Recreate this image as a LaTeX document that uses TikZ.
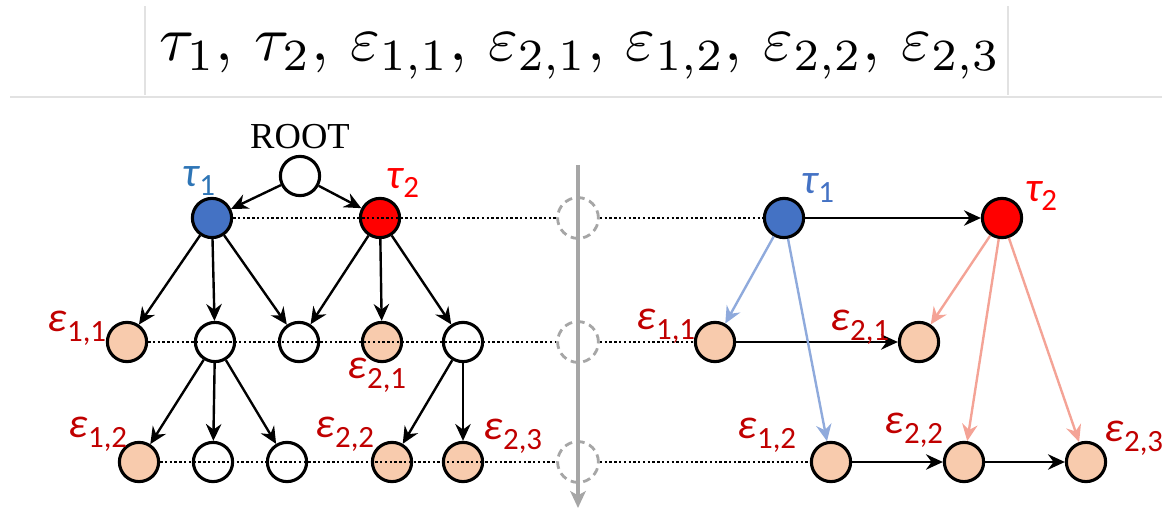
\documentclass[tikz,border=0pt]{standalone}
\usepackage{fontspec}
\usepackage{graphicx}
\usetikzlibrary{arrows.meta}
\newfontfamily\labfont{Carlito}
\newfontfamily\rootfont{Liberation Serif}
\definecolor{tblue}{HTML}{4472C4}
\definecolor{tred}{HTML}{FF0000}
\definecolor{peach}{HTML}{F8CBAD}
\definecolor{lblue}{HTML}{2E75B6}
\definecolor{rblue}{HTML}{4472C4}
\definecolor{erd}{HTML}{C00000}
\definecolor{eblue}{HTML}{8FAADC}
\definecolor{esalmon}{HTML}{F4A396}
\definecolor{gline}{HTML}{A6A6A6}
\definecolor{boxline}{HTML}{E2E2E2}
\newcommand\glab[2]{{\itshape #1}\raisebox{-7pt}{\fontsize{22}{22}\selectfont #2}}
\begin{document}
\begin{tikzpicture}[x=0.025cm,y=-0.025cm,
  nd/.style={circle,draw=black,line width=2.2pt,minimum size=0.98cm,inner sep=0pt},
  wnode/.style={nd,fill=white},
  bnode/.style={nd,fill=tblue},
  rnode/.style={nd,fill=tred},
  pnode/.style={nd,fill=peach},
  gnode/.style={circle,draw=gline,dash pattern=on 5.5pt off 3.5pt,line width=2pt,minimum size=1.02cm,inner sep=0pt},
  edge/.style={line width=1.7pt,-{Stealth[length=12pt,width=11pt,inset=4pt]}},
  lab/.style={font=\labfont\fontsize{30}{30}\selectfont,inner sep=0pt},
  dotl/.style={line width=1.8pt,dash pattern=on 1.7pt off 1.7pt},
]
\useasboundingbox (0,0) rectangle (1173,518);
% title
\draw[boxline,line width=1pt] (145,6) -- (145,95) (1008,6) -- (1008,95);
\draw[boxline,line width=1pt] (10,97) -- (1162,97);
\node (title) at (580,56) {\resizebox{598pt}{!}{$\tau_1,\,\tau_2,\,\varepsilon_{1,1},\,\varepsilon_{2,1},\,\varepsilon_{1,2},\,\varepsilon_{2,2},\,\varepsilon_{2,3}$}};
% left tree
\node[wnode] (root) at (300,176) {};
\node[bnode] (t1L) at (212,218) {};
\node[rnode] (t2L) at (380,218) {};
\node[pnode] (a1) at (127,342) {};
\node[wnode] (a2) at (215,342) {};
\node[wnode] (a3) at (299,342) {};
\node[pnode] (a4) at (382,342) {};
\node[wnode] (a5) at (463,342) {};
\node[pnode] (b1) at (139,462) {};
\node[wnode] (b2) at (213,462) {};
\node[wnode] (b3) at (287,462) {};
\node[pnode] (b4) at (392,462) {};
\node[pnode] (b5) at (463,462) {};
\draw[edge] (root) -- (t1L);
\draw[edge] (root) -- (t2L);
\draw[edge] (t1L) -- (a1);
\draw[edge] (t1L) -- (a2);
\draw[edge] (t1L) -- (a3);
\draw[edge] (t2L) -- (a3);
\draw[edge] (t2L) -- (a4);
\draw[edge] (t2L) -- (a5);
\draw[edge] (a2) -- (b1);
\draw[edge] (a2) -- (b2);
\draw[edge] (a2) -- (b3);
\draw[edge] (a5) -- (b4);
\draw[edge] (a5) -- (b5);
\node[font=\rootfont\fontsize{26}{26}\selectfont,inner sep=0pt] (rootlab) at (300,137) {ROOT};
\node[lab,text=lblue] (t1Llab) at (199,181) {\glab{τ}{1}};
\node[lab,text=tred] (t2Llab) at (403,183) {\glab{τ}{2}};
\node[lab,text=erd] (a1lab) at (77,328) {\glab{ε}{1,1}};
\node[lab,text=erd] (a4lab) at (377,375) {\glab{ε}{2,1}};
\node[lab,text=erd] (b1lab) at (98,434) {\glab{ε}{1,2}};
\node[lab,text=erd] (b4lab) at (345,434) {\glab{ε}{2,2}};
\node[lab,text=erd] (b5lab) at (513,436) {\glab{ε}{2,3}};
% middle
\coordinate (ctop) at (578,165);
\coordinate (cbot) at (578,508);
\draw[gline,line width=2.2pt,-{Stealth[length=12pt,width=11pt,inset=3pt]}] (ctop) -- (cbot);
\node[gnode] (m1) at (578,218) {};
\node[gnode] (m2) at (578,342) {};
\node[gnode] (m3) at (578,462) {};
% right
\node[bnode] (t1R) at (784,218) {};
\node[rnode] (t2R) at (1002,218) {};
\node[pnode] (e11) at (715,342) {};
\node[pnode] (e21) at (919,342) {};
\node[pnode] (e12) at (831,462) {};
\node[pnode] (e22) at (964,462) {};
\node[pnode] (e23) at (1086,462) {};
\draw[edge] (t1R) -- (t2R);
\draw[edge] (e11) -- (e21);
\draw[edge] (e12) -- (e22);
\draw[edge] (e22) -- (e23);
\draw[edge,eblue] (t1R) -- (e11);
\draw[edge,eblue] (t1R) -- (e12);
\draw[edge,esalmon] (t2R) -- (e21);
\draw[edge,esalmon] (t2R) -- (e22);
\draw[edge,esalmon] (t2R) -- (e23);
\node[lab,text=rblue] (t1Rlab) at (818,188) {\glab{τ}{1}};
\node[lab,text=tred] (t2Rlab) at (1041,196) {\glab{τ}{2}};
\node[lab,text=erd] (e11lab) at (666,326) {\glab{ε}{1,1}};
\node[lab,text=erd] (e21lab) at (860,327) {\glab{ε}{2,1}};
\node[lab,text=erd] (e12lab) at (767,435) {\glab{ε}{1,2}};
\node[lab,text=erd] (e22lab) at (914,430) {\glab{ε}{2,2}};
\node[lab,text=erd] (e23lab) at (1134,438) {\glab{ε}{2,3}};
% dotted level lines
\draw[dotl] (t1L.east) -- (m1.west);
\draw[dotl] (m1.east) -- (t1R.west);
\draw[dotl] (a1.east) -- (m2.west);
\draw[dotl] (m2.east) -- (e11.west);
\draw[dotl] (b1.east) -- (m3.west);
\draw[dotl] (m3.east) -- (e12.west);
\end{tikzpicture}
\end{document}
